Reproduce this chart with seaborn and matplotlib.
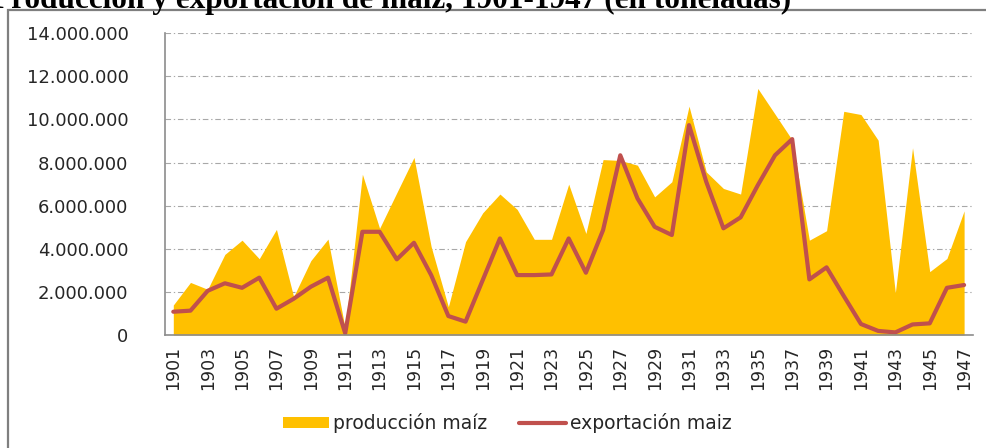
import matplotlib
matplotlib.use("Agg")
import matplotlib.pyplot as plt
import seaborn as sns
import pandas as pd
import numpy as np
from matplotlib.patches import Patch, Rectangle
from matplotlib.lines import Line2D
from matplotlib.ticker import FuncFormatter, FixedLocator

years = list(range(1901, 1948))
produccion = [1.39e6, 2.44e6, 2.12e6, 3.74e6, 4.40e6, 3.54e6, 4.90e6, 1.78e6, 3.45e6, 4.45e6,
              0.30e6, 7.46e6, 4.95e6, 6.60e6, 8.24e6, 4.10e6, 1.31e6, 4.33e6, 5.67e6, 6.54e6,
              5.83e6, 4.44e6, 4.44e6, 7.00e6, 4.71e6, 8.14e6, 8.10e6, 7.88e6, 6.41e6, 7.11e6,
              10.62e6, 7.57e6, 6.80e6, 6.54e6, 11.44e6, 10.25e6, 9.05e6, 4.40e6, 4.84e6, 10.38e6,
              10.23e6, 9.04e6, 1.96e6, 8.69e6, 2.94e6, 3.55e6, 5.76e6]
exportacion = [1.08e6, 1.13e6, 2.05e6, 2.40e6, 2.19e6, 2.66e6, 1.22e6, 1.68e6, 2.24e6, 2.66e6,
               0.08e6, 4.79e6, 4.79e6, 3.51e6, 4.28e6, 2.78e6, 0.88e6, 0.62e6, 2.55e6, 4.48e6,
               2.78e6, 2.78e6, 2.81e6, 4.48e6, 2.89e6, 4.87e6, 8.34e6, 6.34e6, 5.02e6, 4.64e6,
               9.74e6, 7.11e6, 4.95e6, 5.46e6, 6.95e6, 8.34e6, 9.09e6, 2.58e6, 3.14e6, 1.81e6,
               0.51e6, 0.19e6, 0.12e6, 0.49e6, 0.54e6, 2.19e6, 2.32e6]
yticks = [0, 2e6, 4e6, 6e6, 8e6, 10e6, 12e6, 14e6]
title = "Producción y exportación de maíz, 1901-1947 (en toneladas)"
labels = ["producción maíz", "exportación maiz"]

df = pd.DataFrame({"pos": np.arange(len(years)), "year": years,
                   "produccion": produccion, "exportacion": exportacion})

sns.set_style("white")
plt.rcParams["font.family"] = ["DejaVu Sans"]

fig = plt.figure(figsize=(9.87, 4.48), dpi=100)
ax = fig.add_axes([164.7 / 987, 1 - 335 / 448, (972.7 - 164.7) / 987, (335 - 33.3) / 448])

yellow = "#FFC000"
red = "#C0504D"

ax.fill_between(df["pos"], 0, df["produccion"], color=yellow, linewidth=0, zorder=2)
sns.lineplot(data=df, x="pos", y="exportacion", ax=ax, color=red, linewidth=3.0,
             zorder=3, legend=False)

ax.set_xlim(-0.5, len(years) - 0.5)
ax.set_ylim(0, 14e6)
ax.set_yticks(yticks)
ax.yaxis.set_major_formatter(FuncFormatter(lambda v, p: f"{int(v):,}".replace(",", ".")))
ax.yaxis.grid(True, color="#a8a8a8", linestyle=(0, (5, 2.5, 1.2, 2.5)), linewidth=0.8, zorder=0)
ax.xaxis.grid(False)
ax.set_axisbelow(True)

ax.xaxis.set_major_locator(FixedLocator(np.arange(0, len(years), 2)))
ax.set_xticklabels([str(y) for y in years[::2]], rotation=90, fontsize=12.5)
ax.xaxis.set_minor_locator(FixedLocator(np.arange(-0.5, len(years) + 0.5, 1)))
ax.tick_params(axis="x", which="major", length=0, pad=8)
ax.tick_params(axis="x", which="minor", length=7, color="#8c8c8c", width=0.9)
ax.tick_params(axis="y", which="major", length=7, color="#8c8c8c", width=0.9, labelsize=13, pad=19)
ax.set_xlabel("")
ax.set_ylabel("")

for s in ["top", "right"]:
    ax.spines[s].set_visible(False)
for s in ["left", "bottom"]:
    ax.spines[s].set_color("#8c8c8c")
    ax.spines[s].set_linewidth(1.2)
    ax.spines[s].set_zorder(4)

handles = [Patch(facecolor=yellow, edgecolor="none"),
           Line2D([0], [0], color=red, linewidth=3.0)]
fig.legend(handles, labels, loc="center", bbox_to_anchor=(507 / 987, 1 - 423 / 448),
           ncol=2, frameon=False, fontsize=13.5, handlelength=2.5, handleheight=0.55,
           handletextpad=0.2, columnspacing=1.7)

# chart border (cut at right and bottom)
fig.patches.append(Rectangle((8 / 987, -0.1), 1.2, 1 - 10 / 448 + 0.1, transform=fig.transFigure,
                             fill=False, edgecolor="#7f7f7f", linewidth=1.6))

fig.text(-8 / 987, 1 - 8 / 448, title, fontsize=22.5, family=["Liberation Serif"],
         fontweight="bold", ha="left", va="baseline", color="black")

fig.savefig("out.png", dpi=100)
